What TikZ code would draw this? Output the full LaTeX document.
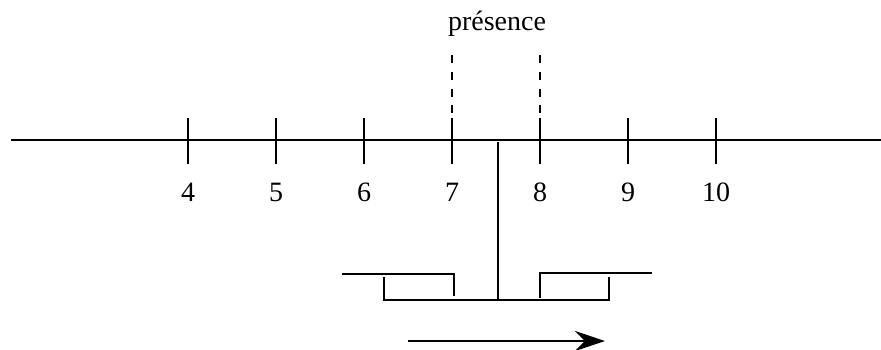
\documentclass[tikz,border=0pt]{standalone}
\usepackage{fontspec}
\setmainfont{Liberation Serif}
\usetikzlibrary{arrows.meta}

\begin{document}
\begin{tikzpicture}
[
    x=0.5pt, y=-0.5pt,
    axis/.style={line width=1.3pt},
    tickmark/.style={line width=1pt},
    guide/.style={line width=1pt, dash pattern=on 4pt off 4.4pt},
    numlabel/.style={font=\fontsize{14}{16}\selectfont},
    slider/.style={line width=1pt},
]
\useasboundingbox (0,0) rectangle (881,349);
% scale
\draw[axis] (11,140) coordinate (axisL) -- (881,140) coordinate (axisR);
\foreach \n [count=\i from 0] in {4,...,10} {
    \draw[tickmark] (188+88*\i,118) coordinate (top\n) -- (188+88*\i,164) coordinate (bot\n);
    \node[numlabel] (num\n) at (188+88*\i,192) {\n};
}
% presence window
\node[numlabel] (presence) at (497,24) {présence};
\coordinate (dashA) at (452,55);
\coordinate (dashB) at (540,55);
\draw[guide] (dashA) -- (top7);
\draw[guide] (dashB) -- (top8);
% pointer and sliders
\coordinate (ptrTop) at (498,142);
\coordinate (ptrBot) at (498,300);
\draw[slider] (ptrTop) -- (ptrBot);
\draw[slider] (384,277) -- (384,300) -- (609,300) -- (609,277);
\draw[slider] (342,274) -- (454,274) -- (454,296);
\draw[slider] (540,298) -- (540,273) -- (652,273);
% direction
\coordinate (arrL) at (408,341);
\coordinate (arrR) at (605,341);
\draw[slider, -{Stealth[length=15pt, width=10pt]}] (arrL) -- (arrR);
\end{tikzpicture}
\end{document}
